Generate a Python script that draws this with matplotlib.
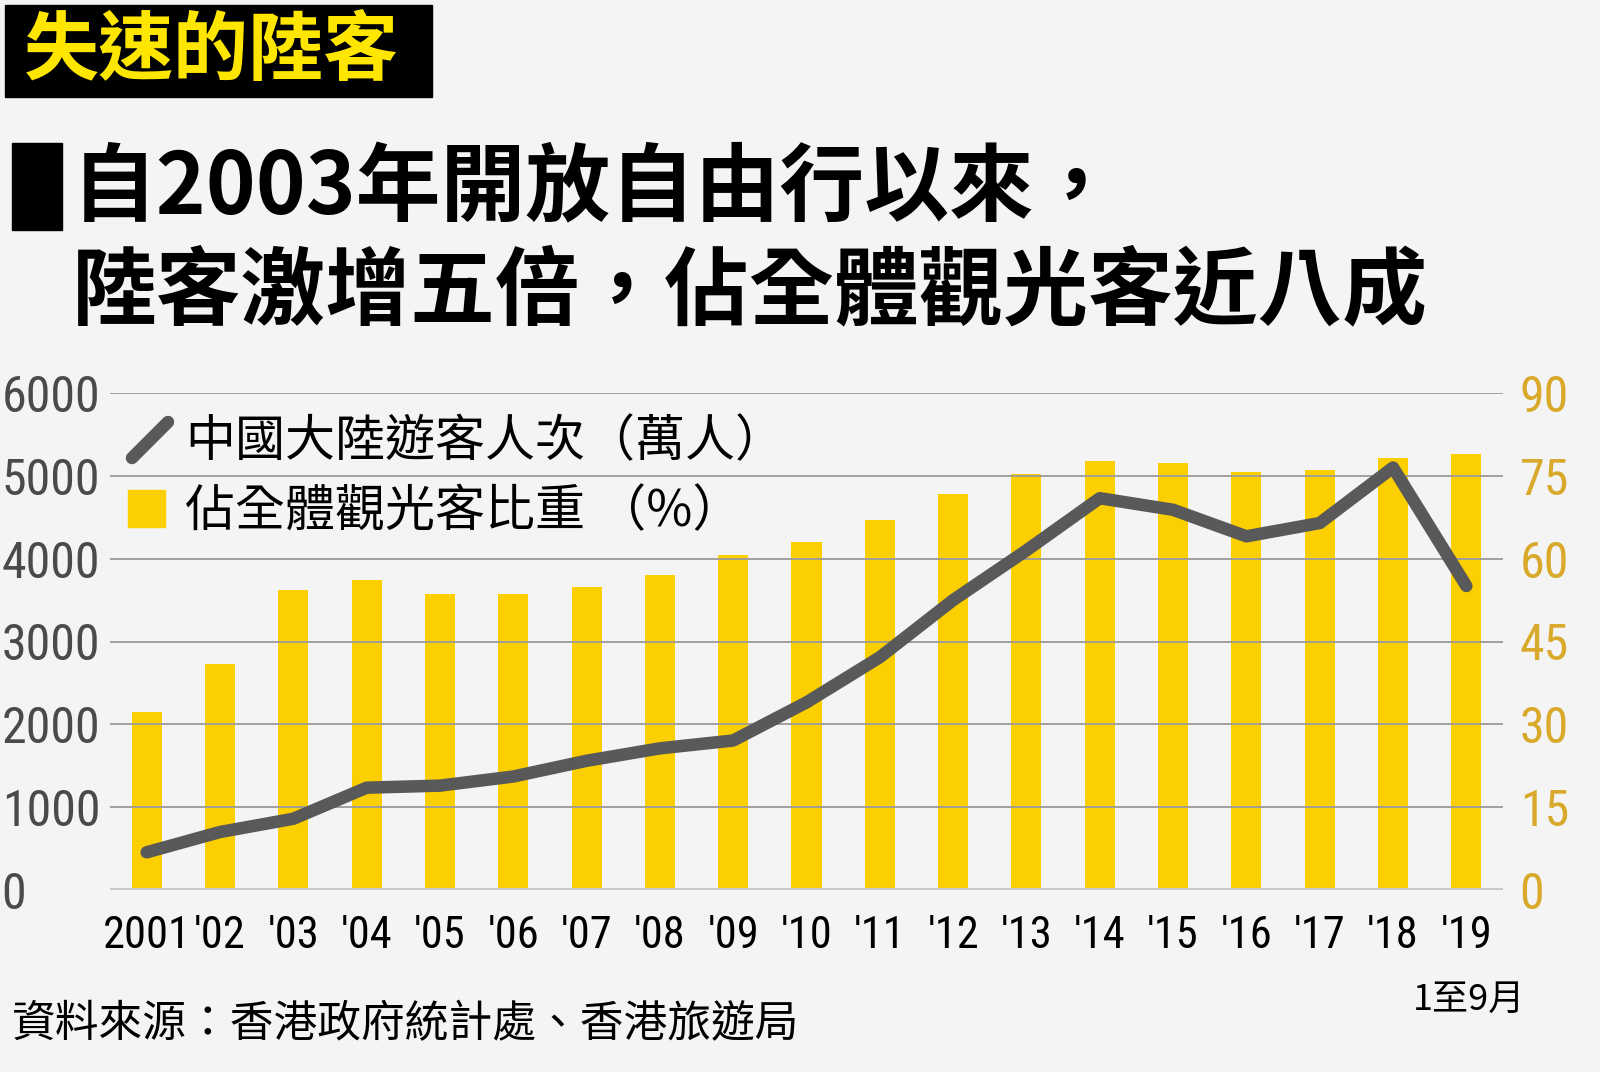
import matplotlib
matplotlib.use("Agg")
import matplotlib.pyplot as plt
from matplotlib import font_manager
from matplotlib.lines import Line2D
from matplotlib.patches import Rectangle

# data
years = ["2001", "'02", "'03", "'04", "'05", "'06", "'07", "'08", "'09", "'10",
         "'11", "'12", "'13", "'14", "'15", "'16", "'17", "'18", "'19"]
visitors = [455, 700, 860, 1235, 1260, 1370, 1560, 1710, 1805, 2265,
            2810, 3500, 4100, 4730, 4590, 4270, 4430, 5100, 3670]   # 萬人
share = [32.3, 41.0, 54.3, 56.2, 53.6, 53.6, 54.9, 57.1, 60.7, 63.0,
         67.0, 71.7, 75.3, 77.7, 77.3, 75.7, 76.1, 78.3, 79.0]     # %
left_ticks = [0, 1000, 2000, 3000, 4000, 5000, 6000]
right_ticks = [0, 15, 30, 45, 60, 75, 90]

BG = "#f4f4f4"
YELLOW = "#fcd000"
GREY = "#595959"
GOLD = "#d9a92b"
CJK = ["Noto Sans CJK TC", "DejaVu Sans"]

# pick a narrow face for the numbers if one is installed
names = {f.name for f in font_manager.fontManager.ttflist}
stretch = "normal"
if "Liberation Sans Narrow" in names:
    NUM, ysz, xsz = ["Liberation Sans Narrow"], 37, 34
elif "Roboto Condensed" in names:
    NUM, ysz, xsz = ["Roboto Condensed"], 36, 32
else:
    path = font_manager.findfont(font_manager.FontProperties(
        family="DejaVu Sans", stretch="condensed"))
    if "Condensed" in path:
        NUM, ysz, xsz, stretch = ["DejaVu Sans"], 30, 26, "condensed"
    else:
        NUM, ysz, xsz = ["Roboto", "DejaVu Sans"], 30, 25

W, H = 1600, 1072
fig = plt.figure(figsize=(16, 10.72), dpi=100, facecolor=BG)


def fx(px):
    return px / W


def fy(py):
    return 1 - py / H


# tag box
fig.patches.append(Rectangle((fx(5), fy(97)), fx(427), 92 / H,
                             transform=fig.transFigure, color="black"))
fig.text(fx(24), fy(52), "失速的陸客", family=CJK, fontsize=54,
         fontweight="bold", color="#ffe600", va="center")

# headline
fig.patches.append(Rectangle((fx(12), fy(230)), fx(50), 87 / H,
                             transform=fig.transFigure, color="black"))
fig.text(fx(72), fy(189), "自2003年開放自由行以來，", family=CJK, fontsize=61,
         fontweight="bold", color="black", va="center")
fig.text(fx(72), fy(292), "陸客激增五倍，佔全體觀光客近八成", family=CJK,
         fontsize=61, fontweight="bold", color="black", va="center")

ax = fig.add_axes([fx(110), fy(890), fx(1393), 497 / H])
ax.set_facecolor(BG)
ax2 = ax.twinx()

x = list(range(len(years)))
ax2.bar(x, share, width=0.41, color=YELLOW, zorder=2)
ax2.set_ylim(0, 90)
ax2.set_yticks(right_ticks)

ax.set_ylim(0, 6000)
ax.set_yticks(left_ticks)
ax.set_yticklabels([str(t) for t in left_ticks], ha="left")
ax.set_xlim(-0.5, 18.5)
ax.set_xticks(x)
ax.set_xticklabels(years)
for t in left_ticks[1:]:
    ax.axhline(t, color="#9a9a9a", lw=1.3, zorder=0)
ax.axhline(0, color="#c8c8c8", lw=3, zorder=0)

# line drawn on top of the bars
ax.set_zorder(ax2.get_zorder() + 1)
ax.patch.set_visible(False)
ax2.patch.set_facecolor(BG)
ax.plot(x, visitors, color=GREY, lw=9, solid_capstyle="round",
        solid_joinstyle="round", zorder=3)

for a in (ax, ax2):
    for s in a.spines.values():
        s.set_visible(False)
    a.tick_params(length=0)

ax.tick_params(axis="y", labelsize=ysz, labelcolor="#4a4a4a", pad=78)
ax.tick_params(axis="x", labelsize=xsz, labelcolor="black", pad=18)
ax2.tick_params(axis="y", labelsize=ysz, labelcolor=GOLD, pad=12)
for lab in ax.get_yticklabels() + ax.get_xticklabels() + ax2.get_yticklabels():
    lab.set_family(NUM)
    lab.set_fontstretch(stretch)

# legend
fig.lines.append(Line2D([fx(132), fx(168)], [fy(458), fy(422)],
                        transform=fig.transFigure, color=GREY, lw=9,
                        solid_capstyle="round"))
fig.text(fx(185), fy(442), "中國大陸遊客人次（萬人）", family=CJK, fontsize=36,
         color="black", va="center")
fig.patches.append(Rectangle((fx(128), fy(527)), fx(37), 37 / H,
                             transform=fig.transFigure, color=YELLOW))
fig.text(fx(185), fy(512), "佔全體觀光客比重 （%）", family=CJK, fontsize=36,
         color="black", va="center")

# notes
fig.text(fx(1525), fy(1000), "1至9月", family=CJK, fontsize=26,
         color="black", ha="right", va="center")
fig.text(fx(12), fy(1024), "資料來源：香港政府統計處、香港旅遊局", family=CJK,
         fontsize=31.5, color="black", va="center")

fig.savefig("out.png", dpi=100, facecolor=BG)
